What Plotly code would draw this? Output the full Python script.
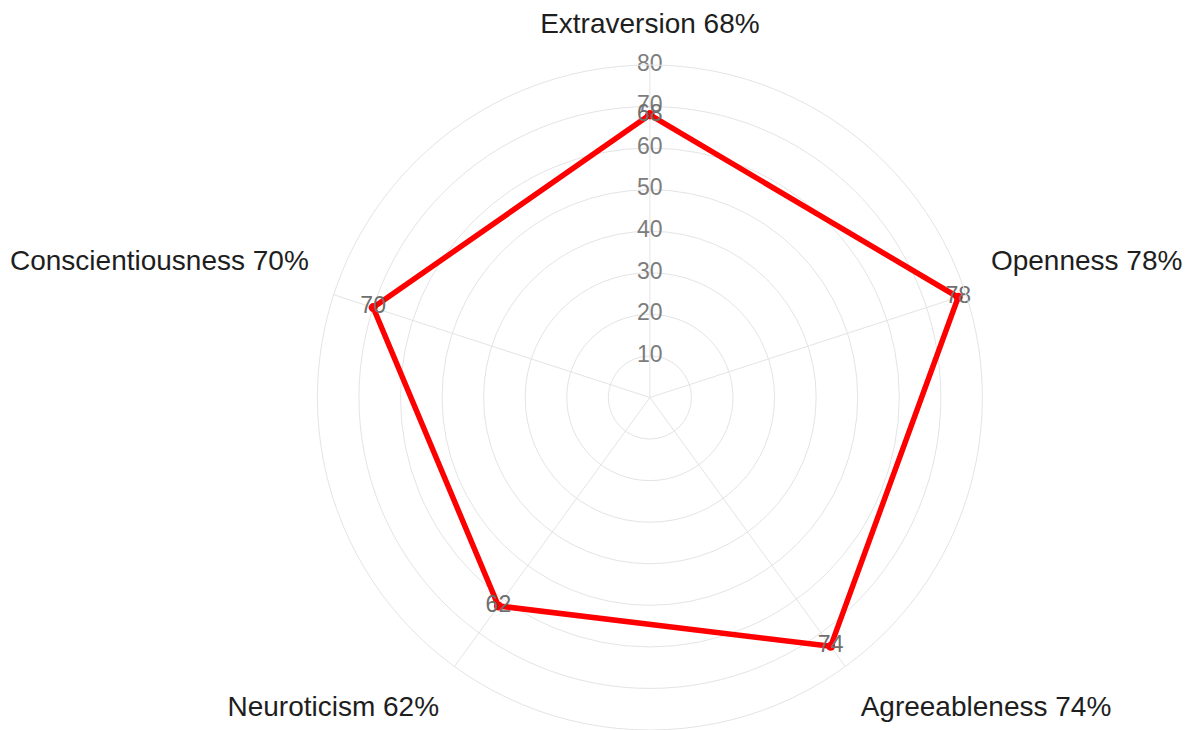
import plotly.graph_objects as go

traits = ["Extraversion", "Openness", "Agreeableness", "Neuroticism", "Conscientiousness"]
scores = [68, 78, 74, 62, 70]
# side labels carry a trailing blank line so they sit a little above their spoke
label_suffix = ["", "<br> ", "", "", "<br> "]
axis_labels = [f"{t} {s}%{suf}" for t, s, suf in zip(traits, scores, label_suffix)]
radial_ticks = [10, 20, 30, 40, 50, 60, 70, 80]

fig = go.Figure()

# radial tick labels, centred on the top spoke
fig.add_trace(go.Scatterpolar(
    r=radial_ticks,
    theta=[axis_labels[0]] * len(radial_ticks),
    mode="text",
    text=[str(v) for v in radial_ticks],
    textfont=dict(family="Liberation Sans, Arial, sans-serif", size=23, color="#7d7d7d"),
    textposition="middle center",
    hoverinfo="skip",
    showlegend=False,
))

fig.add_trace(go.Scatterpolar(
    r=scores + [scores[0]],
    theta=axis_labels + [axis_labels[0]],
    mode="lines+markers+text",
    line=dict(color="#ff0000", width=5.5),
    marker=dict(color="#ff0000", size=9),
    text=[str(v) for v in scores] + [""],
    textposition="middle center",
    textfont=dict(family="Liberation Sans, Arial, sans-serif", size=23, color="#6e6e6e"),
    showlegend=False,
))

fig.update_layout(
    width=1187, height=730,
    margin=dict(l=0, r=0, t=0, b=0),
    paper_bgcolor="white",
    font=dict(family="Liberation Sans, Arial, sans-serif"),
    polar=dict(
        domain=dict(x=[0.267, 0.828], y=[0.0, 0.911]),
        bgcolor="white",
        radialaxis=dict(
            range=[0, 80], dtick=10, angle=90, showticklabels=False,
            showline=False, ticks="", gridcolor="#e4e4e4", gridwidth=1,
        ),
        angularaxis=dict(
            direction="clockwise", rotation=90,
            tickfont=dict(size=28, color="#1e1e1e"),
            ticks="outside", ticklen=20, tickcolor="rgba(0,0,0,0)",
            gridcolor="#e4e4e4", linecolor="#e4e4e4", showline=True,
        ),
    ),
)

fig.write_html("out.html")
